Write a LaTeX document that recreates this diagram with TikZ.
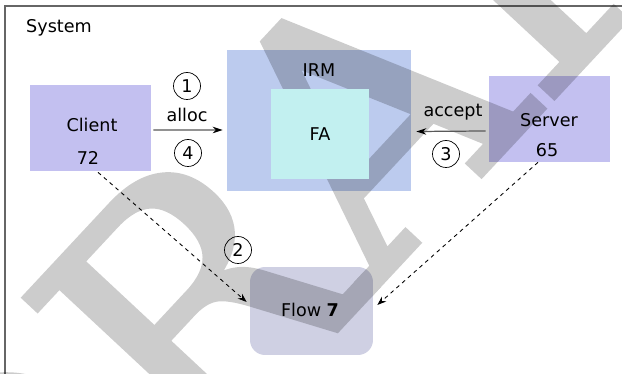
\documentclass[tikz,border=0pt]{standalone}
\usepackage{fontspec}
\setmainfont{DejaVu Sans}
\newfontfamily\draftfont{DejaVu Serif}[FakeBold=1.5]
\usetikzlibrary{calc,arrows.meta}

\definecolor{procfill}{HTML}{C3C0F0}
\definecolor{irmfill}{HTML}{BCCBEE}
\definecolor{fafill}{HTML}{C2F0F0}
\definecolor{flowfill}{HTML}{CFD0E3}
\definecolor{framecol}{HTML}{666666}

\tikzset{
  box/.style={rectangle,inner sep=0pt,minimum width=#1},
  proc/.style={box=2.42cm,minimum height=1.72cm,fill=procfill},
  stepnum/.style={circle,draw,thin,inner sep=0pt,minimum size=0.54cm},
  callarrow/.style={draw=black!65,line width=0.7pt,-{Stealth[length=2mm,width=1.3mm,color=black]}},
  flowarrow/.style={draw=black,line width=0.5pt,dash pattern=on 2.2pt off 2.2pt,-{Stealth[length=1.8mm,width=1.3mm]}}
}

\begin{document}
\begin{tikzpicture}[x=0.02cm,y=-0.02cm]
\useasboundingbox (0,0) rectangle (622,374);
\clip (0,0) rectangle (622,374);
\fill[white] (0,0) rectangle (622,374);
\draw[framecol,line width=0.8pt] (5,6) rectangle (640,390);
\node[anchor=west] (sys) at (20,28) {System};

% boxes
\node[proc] (client) at (90.5,128) {};
\node[box=3.68cm,minimum height=2.82cm,fill=irmfill] (irm) at (319,120.5) {};
\node[proc] (server) at (549.5,119) {};
\node[box=2.46cm,minimum height=1.76cm,fill=flowfill,rounded corners=0.3cm] (flow) at (311.5,311) {};

% watermark
\begin{scope}[transparency group,opacity=0.2]
\node[rotate=47,inner sep=0pt,text=black,font=\draftfont\fontsize{196}{196}\selectfont] (draft) at (342,141) {DRAFT};
\end{scope}

\node[box=1.96cm,minimum height=1.8cm,fill=fafill] (fa) at (320,134) {FA};

% labels
\node (clientlbl) at (92,125) {Client};
\node (clientnum) at (88,158) {72};
\node (irmlbl) at (319,70) {IRM};
\node (serverlbl) at (549,120) {Server};
\node (servernum) at (547,150) {65};
\node (flowlbl) at (310,310) {Flow \textbf{7}};

% calls
\draw[callarrow] ($(client.east)+(2,2)$) -- ($(irm.west)+(-4,9.5)$);
\node (alloc) at (187,115) {alloc};
\node[stepnum] (s1) at (187,86) {1};
\node[stepnum] (s4) at (188,153) {4};

\draw[callarrow] ($(server.west)+(-3,12)$) -- ($(irm.east)+(5,11)$);
\node (accept) at (453,112) {accept};
\node[stepnum] (s3) at (446,154) {3};

\draw[flowarrow] ($(client.south)+(7.5,1)$) -- ($(flow.west)+(-3,-9)$);
\draw[flowarrow] ($(server.south)+(-11.5,0)$) -- ($(flow.east)+(4,-6)$);
\node[stepnum] (s2) at (238,250) {2};
\end{tikzpicture}
\end{document}
